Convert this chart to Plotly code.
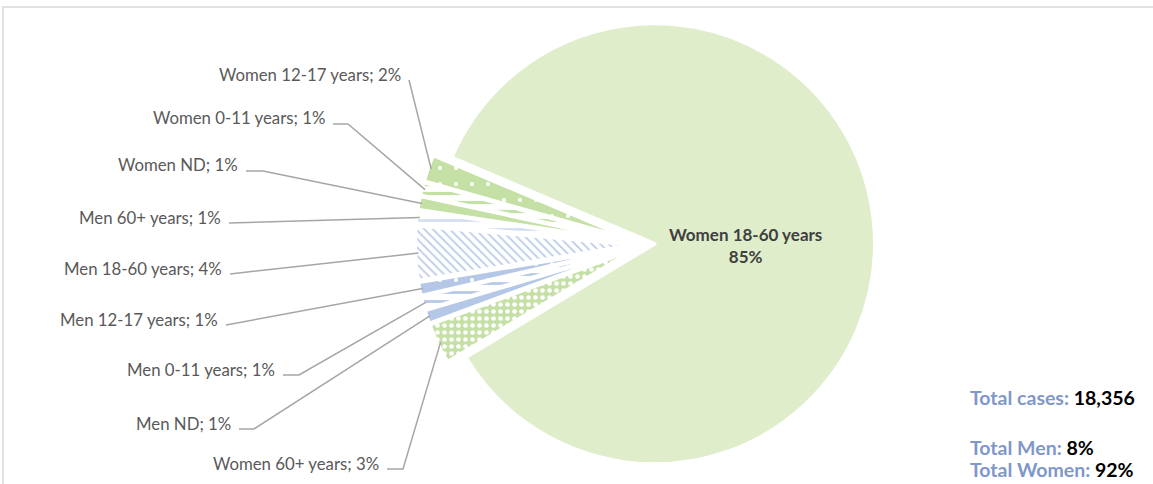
import math
import plotly.graph_objects as go

# ---- data -------------------------------------------------------------
groups = [
    "Women 18-60 years", "Women 60+ years", "Men ND", "Men 0-11 years",
    "Men 12-17 years", "Men 18-60 years", "Men 60+ years", "Women ND",
    "Women 0-11 years", "Women 12-17 years",
]
shares = [85, 3, 1, 1, 1, 4, 1, 1, 1, 2]          # % of cases
total_cases = 18356
total_men_pct = 8
total_women_pct = 92

# ---- styling ----------------------------------------------------------
W, H = 1153, 484
GREEN_PALE = "#DFEDCB"
GREEN = "#C5E0A5"
BLUE = "#B4C7E7"
BLUE_PALE = "#D3DEF1"
WHITE = "#FFFFFF"
TEXT = "#595959"

fill_bg = [GREEN_PALE, GREEN, BLUE, WHITE, BLUE, WHITE, WHITE, GREEN, WHITE, GREEN]
fill_fg = [GREEN_PALE, WHITE, BLUE, BLUE, WHITE, "#BACBEA", BLUE_PALE, GREEN, GREEN, WHITE]
fill_shape = ["", ".", "", "-", ".", "\\", "-", "", "-", "."]
fill_size = [8, 7, 8, 9, 16, 6, 9, 8, 9, 16]
fill_solid = [0.3, 0.35, 0.3, 0.3, 0.05, 0.3, 0.3, 0.3, 0.35, 0.05]

ROTATION = 293.0        # start of first slice, degrees clockwise from 12 o'clock
PULL = 0.043
DOMAIN_X = [415 / W, 875 / W]
DOMAIN_Y = [1 - 474.4 / H, 1 - 14.4 / H]
LABEL_FONT = "Lato"

# outside label placement: (right edge x, centre y, elbow length) in px
label_layout = [
    None,
    (381, 463, 16),
    (233, 423, 15),
    (277, 369, 16),
    (220, 319, 0),
    (224, 268, 0),
    (223, 217, 0),
    (240, 165, 17),
    (327, 118, 15),
    (403, 74, 0),
]

fig = go.Figure(go.Pie(
    labels=groups,
    values=shares,
    sort=False,
    direction="clockwise",
    rotation=ROTATION,
    pull=[PULL] * len(groups),
    domain=dict(x=DOMAIN_X, y=DOMAIN_Y),
    marker=dict(
        colors=fill_bg,
        line=dict(color=WHITE, width=4),
        pattern=dict(shape=fill_shape, fgcolor=fill_fg, bgcolor=fill_bg,
                     size=fill_size, solidity=fill_solid, fillmode="replace"),
    ),
    textinfo="none",
    hoverinfo="label+percent",
    showlegend=False,
))

# pie geometry (same rule the library uses: radius shrinks by the max pull)
cx = W * (DOMAIN_X[0] + DOMAIN_X[1]) / 2
cy = H * (1 - (DOMAIN_Y[0] + DOMAIN_Y[1]) / 2)
half = min(W * (DOMAIN_X[1] - DOMAIN_X[0]), H * (DOMAIN_Y[1] - DOMAIN_Y[0])) / 2
radius = half / (1 + PULL)

total = sum(shares)
angle = ROTATION
annotations = []
shapes = []
for name, val, lay in zip(groups, shares, label_layout):
    span = 360.0 * val / total
    mid = math.radians(angle + span / 2)
    angle += span
    ux, uy = math.sin(mid), -math.cos(mid)
    if lay is None:
        # label of the dominant slice, placed inside it to the right of the centre
        bx = cx + PULL * radius * ux + 0.415 * radius
        by = cy + 1
        annotations.append(dict(
            text=f"<b>{name}</b><br><b>{val}%</b>", x=bx / W, y=1 - by / H,
            xref="paper", yref="paper", xanchor="center", yanchor="middle",
            showarrow=False, align="center",
            font=dict(family=LABEL_FONT, size=17, color="#404040"),
        ))
        continue
    sx = cx + (PULL + 0.985) * radius * ux
    sy = cy + (PULL + 0.985) * radius * uy
    xr, yc, elbow = lay
    x0, y0 = xr + 6, yc + 6
    pts = [(x0, y0)]
    if elbow:
        pts.append((x0 + elbow, y0))
    pts.append((sx, sy))
    path = "M " + " L ".join(f"{px / W:.5f},{1 - py / H:.5f}" for px, py in pts)
    shapes.append(dict(type="path", path=path, xref="paper", yref="paper",
                       line=dict(color="#A6A6A6", width=1.5)))
    annotations.append(dict(
        text=f"{name}; {val}%", x=xr / W, y=1 - yc / H, xref="paper", yref="paper",
        xanchor="right", yanchor="middle", showarrow=False,
        font=dict(family=LABEL_FONT, size=16.8, color=TEXT),
    ))

# summary block
SUM_BLUE = "#7F97C9"
summary = [
    (f"<b><span style='color:{SUM_BLUE}'>Total cases:</span> {total_cases:,}</b>", 397),
    (f"<b><span style='color:{SUM_BLUE}'>Total Men:</span> {total_men_pct}%</b>", 447),
    (f"<b><span style='color:{SUM_BLUE}'>Total Women:</span> {total_women_pct}%</b>", 469),
]
for txt, yc in summary:
    annotations.append(dict(
        text=txt, x=968 / W, y=1 - yc / H, xref="paper", yref="paper",
        xanchor="left", yanchor="middle", showarrow=False,
        font=dict(family=LABEL_FONT, size=19.5, color="#000000"),
    ))

# chart-area frame (top and left edges visible)
shapes.append(dict(type="rect", xref="paper", yref="paper",
                   x0=3 / W, y0=-0.05, x1=1.05, y1=1 - 7 / H,
                   line=dict(color="#D9D9D9", width=1.5)))

fig.update_layout(
    width=W, height=H,
    margin=dict(l=0, r=0, t=0, b=0),
    paper_bgcolor=WHITE, plot_bgcolor=WHITE,
    annotations=annotations, shapes=shapes,
)

fig.write_html("out.html")
